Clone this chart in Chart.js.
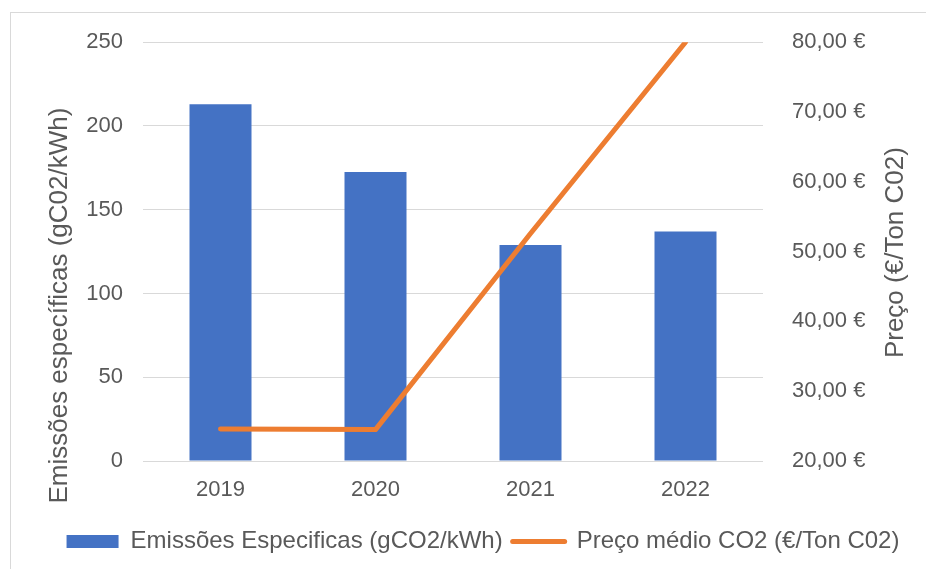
<!DOCTYPE html>
<html><head><meta charset="utf-8">
<script src="https://cdn.jsdelivr.net/npm/chart.js@4"></script>
<style>
html,body{margin:0;padding:0;background:#fff;width:926px;height:569px;overflow:hidden;}
#frame{position:absolute;left:10px;top:12px;width:940px;height:600px;border:1px solid #d9d9d9;box-sizing:border-box;}
#wrap{position:absolute;left:0;top:0;width:926px;height:569px;}
</style></head><body>
<div id="frame"></div>
<div id="wrap"><canvas id="c"></canvas></div>
<script>
const categories = ['2019', '2020', '2021', '2022'];
const emissions = [213, 172.5, 129, 137];
const co2Price = [24.6, 24.5, 52.6, 80];
const leftTicks = [0, 50, 100, 150, 200, 250];
const rightTicks = [20, 30, 40, 50, 60, 70, 80];
const seriesNames = ['Emissões Especificas (gCO2/kWh)', 'Preço médio CO2 (€/Ton C02)'];
const axisTitles = ['Emissões específicas (gC02/kWh)', 'Preço (€/Ton C02)'];

const TXT = '#595959';
const FONT = '"Liberation Sans", Arial, sans-serif';

const titlePlugin = {
  id: 'axisTitles',
  afterDraw(chart) {
    const { ctx, chartArea } = chart;
    const mid = (chartArea.top + chartArea.bottom) / 2;
    ctx.save();
    ctx.fillStyle = TXT;
    ctx.font = '26px ' + FONT;
    ctx.textAlign = 'center';
    ctx.textBaseline = 'middle';
    ctx.save();
    ctx.translate(chartArea.left - 83, mid + 54);
    ctx.rotate(-Math.PI / 2);
    ctx.fillText(axisTitles[0], 0, 0);
    ctx.restore();
    ctx.save();
    ctx.translate(chartArea.right + 133, mid + 1);
    ctx.rotate(-Math.PI / 2);
    ctx.fillText(axisTitles[1], 0, 0);
    ctx.restore();
    ctx.restore();
  }
};

new Chart(document.getElementById('c'), {
  data: {
    labels: categories,
    datasets: [
      {
        type: 'bar',
        label: seriesNames[0],
        data: emissions,
        backgroundColor: '#4472C4',
        borderWidth: 0,
        yAxisID: 'y',
        barPercentage: 0.4,
        categoryPercentage: 1,
        order: 1
      },
      {
        type: 'line',
        label: seriesNames[1],
        data: co2Price,
        borderColor: '#ED7D31',
        backgroundColor: '#ED7D31',
        borderWidth: 5,
        borderCapStyle: 'round',
        borderJoinStyle: 'round',
        pointRadius: 0,
        tension: 0,
        yAxisID: 'y1',
        order: 0
      }
    ]
  },
  options: {
    responsive: true,
    maintainAspectRatio: false,
    animation: false,
    layout: { padding: { left: 40, right: 0, top: 42, bottom: 5.5 } },
    plugins: {
      tooltip: { enabled: false },
      legend: {
        position: 'bottom',
        align: 'center',
        labels: {
          color: TXT,
          font: { size: 24, family: FONT },
          usePointStyle: true,
          pointStyleWidth: 52,
          boxHeight: 13,
          padding: 10,
          sort: (a, b) => a.datasetIndex - b.datasetIndex,
          generateLabels(chart) {
            const items = Chart.defaults.plugins.legend.labels.generateLabels(chart);
            items.forEach(it => {
              if (it.datasetIndex === 0) {
                it.pointStyle = 'rect';
                it.lineWidth = 0;
                it.fillStyle = '#4472C4';
              } else {
                it.pointStyle = 'line';
                it.lineWidth = 5;
                it.strokeStyle = '#ED7D31';
                it.lineCap = 'round';
              }
            });
            return items;
          }
        }
      }
    },
    scales: {
      x: {
        grid: { display: false, drawTicks: false },
        border: { display: false },
        ticks: { color: TXT, font: { size: 22, family: FONT }, padding: 16 },
        afterFit(s) { s.height = 58.5; }
      },
      y: {
        position: 'left',
        min: leftTicks[0],
        max: leftTicks[leftTicks.length - 1],
        afterBuildTicks(s) { s.ticks = leftTicks.map(v => ({ value: v })); },
        grid: { color: '#d9d9d9', lineWidth: 1, drawTicks: false },
        border: { display: false },
        ticks: { color: TXT, font: { size: 22, family: FONT }, padding: 20 },
        afterFit(s) { s.width = 103; }
      },
      y1: {
        position: 'right',
        min: rightTicks[0],
        max: rightTicks[rightTicks.length - 1],
        afterBuildTicks(s) { s.ticks = rightTicks.map(v => ({ value: v })); },
        grid: { display: false, drawTicks: false },
        border: { display: false },
        ticks: {
          color: TXT,
          font: { size: 22, family: FONT },
          padding: 29,
          callback: v => v.toFixed(2).replace('.', ',') + ' €'
        },
        afterFit(s) { s.width = 163; }
      }
    }
  },
  plugins: [titlePlugin]
});
</script>
</body></html>
